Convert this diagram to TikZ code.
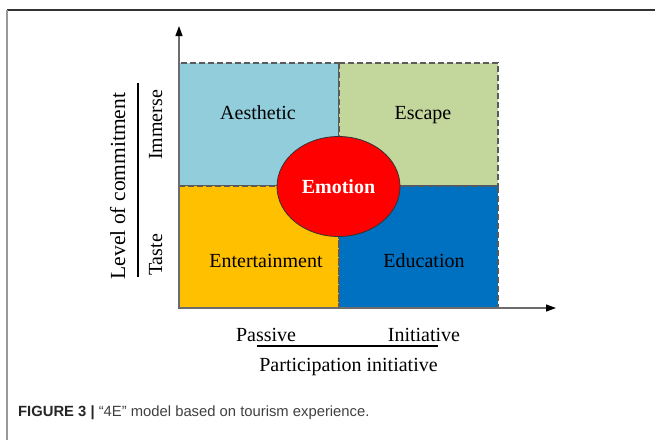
\documentclass[tikz,border=0pt]{standalone}
\usepackage{fontspec}
\setmainfont{Liberation Serif}
\newfontfamily\capfont{Liberation Sans}
\usepackage{tikz}
\usetikzlibrary{arrows.meta}
\usetikzlibrary{shapes.geometric}
\definecolor{aesblue}{HTML}{92CDDC}
\definecolor{escgreen}{HTML}{C3D69B}
\definecolor{entgold}{HTML}{FFC000}
\definecolor{edublue}{HTML}{0070C0}
\definecolor{emored}{HTML}{FF0000}
\definecolor{dashgray}{HTML}{5A5A5A}
\tikzset{
  quad/.style={draw=dashgray, line width=1.1pt, dash pattern=on 6pt off 3pt},
  axis/.style={draw=gray!85!black, line width=1.2pt,
               -{Triangle[length=10pt,width=7pt,black]}},
  lab/.style={font=\fontsize{20}{24}\selectfont, anchor=base, inner sep=0pt},
  rule/.style={line width=1.3pt, black}
}
\begin{document}
\begin{tikzpicture}[x=1pt,y=-1pt]
\useasboundingbox (0,0) rectangle (655,440);
\draw[line width=2pt, black!80] (7,9.5) -- (655,9.5);
\draw[line width=2pt, black!40] (7,9.5) -- (7,440);

\filldraw[quad, fill=aesblue] (179,63) rectangle (339,186);
\filldraw[quad, fill=escgreen] (339,63) rectangle (498,186);
\filldraw[quad, fill=entgold] (179,186) rectangle (339,308);
\filldraw[quad, fill=edublue] (339,186) rectangle (498,308);

\coordinate (O) at (179,308);
\coordinate (ytip) at (179,26);
\coordinate (xtip) at (556,308);
\draw[axis] (O) -- (ytip);
\draw[axis] (O) -- (xtip);

\node[lab] (aes) at (258,119) {Aesthetic};
\node[lab] (esc) at (423,119) {Escape};
\node[lab] (ent) at (266,267) {Entertainment};
\node[lab] (edu) at (424,267) {Education};

\node[ellipse, draw=black!80, line width=0.8pt, fill=emored, minimum width=123pt,
      minimum height=100pt, inner sep=0pt, text=white,
      font=\bfseries\fontsize{20}{24}\selectfont] (emo) at (338.5,186.5) {Emotion};

\node[lab] (pas) at (266,341) {Passive};
\node[lab] (ini) at (424,341) {Initiative};
\coordinate (hl) at (257,346);
\coordinate (hr) at (438,346);
\draw[rule] (hl) -- (hr);
\node[lab] (par) at (348.5,371) {Participation initiative};

\node[lab, rotate=90, font=\fontsize{21.5}{26}\selectfont] (lev) at (125,186) {Level of commitment};
\coordinate (vt) at (138,83);
\coordinate (vb) at (138,277);
\draw[rule] (vt) -- (vb);
\node[lab, rotate=90] (imm) at (162,125) {Immerse};
\node[lab, rotate=90] (tas) at (162,255) {Taste};

\node[anchor=base west, inner sep=0pt, text=black!85,
      font=\capfont\fontsize{14.8}{17}\selectfont] (cap) at (18,416)
      {\textbf{FIGURE 3 |} \textcolor{black!75}{“4E” model based on tourism experience.}};
\end{tikzpicture}
\end{document}
